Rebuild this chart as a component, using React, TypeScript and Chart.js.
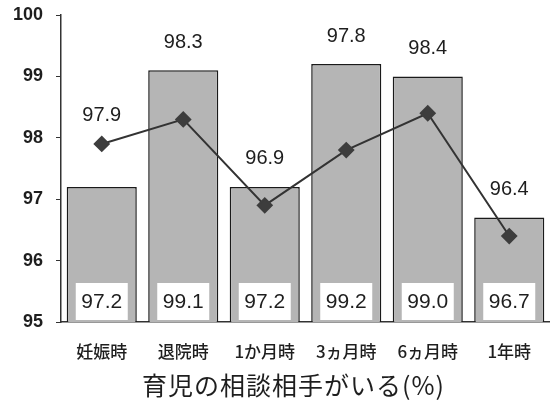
import React, { useEffect, useRef } from "react";
import { Chart, registerables } from "chart.js";

Chart.register(...registerables);

const categories = ["妊娠時", "退院時", "1か月時", "3ヵ月時", "6ヵ月時", "1年時"];
const barValues = [97.2, 99.1, 97.2, 99.2, 99.0, 96.7];
const lineValues = [97.9, 98.3, 96.9, 97.8, 98.4, 96.4];
const yTicks = [95, 96, 97, 98, 99, 100];
const titleText = "育児の相談相手がいる(%)";

const NUM_FONT = "'Liberation Sans', Arial, sans-serif";
const JP_FONT = "'Noto Sans CJK JP', 'Noto Sans', sans-serif";

// Value labels: line values above the higher of point / bar top, bar values in white boxes at the base
const valueLabels = {
  id: "valueLabels",
  afterDatasetsDraw(chart: any) {
    const ctx = chart.ctx;
    const barMeta = chart.getDatasetMeta(0);
    const lineMeta = chart.getDatasetMeta(1);
    const bottom = chart.chartArea.bottom;
    ctx.save();
    ctx.textAlign = "center";
    ctx.textBaseline = "middle";

    barMeta.data.forEach((bar: any, i: number) => {
      const w = 52;
      const h = 37;
      const x = bar.x;
      ctx.fillStyle = "#ffffff";
      ctx.fillRect(x - w / 2, bottom - h - 2, w, h);
      ctx.fillStyle = "#1e1e1e";
      ctx.font = `21px ${NUM_FONT}`;
      ctx.fillText(barValues[i].toFixed(1), x, bottom - h / 2 - 1);
    });

    lineMeta.data.forEach((pt: any, i: number) => {
      const barTop = barMeta.data[i].y;
      const y = Math.min(pt.y, barTop) - 28;
      ctx.fillStyle = "#1e1e1e";
      ctx.font = `20px ${NUM_FONT}`;
      ctx.fillText(lineValues[i].toFixed(1), pt.x, y);
    });
    ctx.restore();
  },
};

// Axis caption under the category labels
const bottomCaption = {
  id: "bottomCaption",
  afterDraw(chart: any) {
    const ctx = chart.ctx;
    const { left, right } = chart.chartArea;
    ctx.save();
    ctx.textAlign = "center";
    ctx.textBaseline = "middle";
    ctx.fillStyle = "#1e1e1e";
    ctx.font = `25px ${JP_FONT}`;
    if ("letterSpacing" in ctx) (ctx as any).letterSpacing = "1px";
    ctx.fillText(titleText, (left + right) / 2 - 12, chart.height - 15);
    ctx.restore();
  },
};

export default function App() {
  const canvasRef = useRef<HTMLCanvasElement | null>(null);

  useEffect(() => {
    if (!canvasRef.current) return;
    const chart = new Chart(canvasRef.current, {
      type: "bar",
      data: {
        labels: categories,
        datasets: [
          {
            type: "bar",
            data: barValues,
            backgroundColor: "#b5b5b5",
            borderColor: "#1a1a1a",
            borderWidth: 1.5,
            barPercentage: 0.86,
            categoryPercentage: 1,
            order: 2,
          },
          {
            type: "line",
            data: lineValues,
            borderColor: "#333333",
            borderWidth: 2,
            pointStyle: "rectRot",
            pointRadius: 7,
            pointBackgroundColor: "#3d3d3d",
            pointBorderColor: "#3d3d3d",
            fill: false,
            tension: 0,
            order: 1,
          },
        ],
      },
      options: {
        animation: false,
        responsive: true,
        maintainAspectRatio: false,
        layout: { autoPadding: false, padding: { top: 0, right: 0, left: 0, bottom: 30 } },
        plugins: {
          legend: { display: false },
          tooltip: { enabled: false },
          title: { display: false },
        },
        scales: {
          x: {
            grid: {
              display: true,
              drawOnChartArea: false,
              drawTicks: true,
              tickLength: 19,
              color: "rgba(0,0,0,0)",
            },
            border: { display: true, color: "#333333", width: 1.5 },
            ticks: {
              color: "#1e1e1e",
              font: { family: JP_FONT, size: 17, weight: "500" },
              padding: 0,
            },
            afterFit: (s: any) => {
              s.height = 48;
            },
          },
          y: {
            min: 95,
            max: 100,
            afterBuildTicks: (s: any) => {
              s.ticks = yTicks.map((v) => ({ value: v }));
            },
            grid: {
              display: true,
              drawOnChartArea: false,
              drawTicks: true,
              tickLength: 5,
              color: "#333333",
            },
            border: { display: true, color: "#333333", width: 1.5 },
            ticks: {
              color: "#1e1e1e",
              font: { family: NUM_FONT, size: 18, weight: "bold" },
              padding: 13,
            },
            afterFit: (s: any) => {
              s.width = 61;
              s.paddingTop = 15;
            },
          },
        },
      },
      plugins: [valueLabels, bottomCaption],
    });
    return () => chart.destroy();
  }, []);

  return (
    <div style={{ position: "absolute", left: 0, top: 0, width: 550, height: 400, background: "#fff" }}>
      <canvas ref={canvasRef} />
    </div>
  );
}
